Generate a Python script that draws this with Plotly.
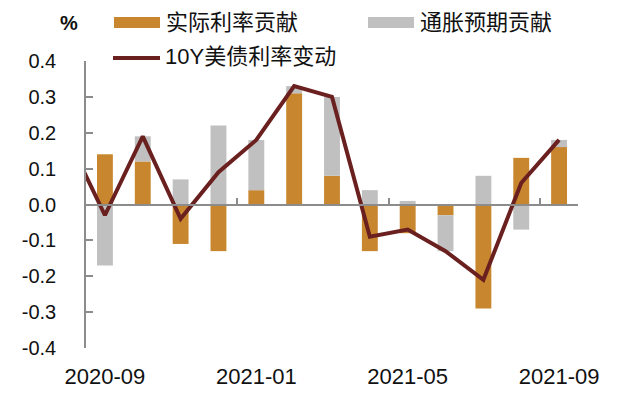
import plotly.graph_objects as go

# ---- data ----
months = ["2020-09", "2020-10", "2020-11", "2020-12", "2021-01", "2021-02", "2021-03",
          "2021-04", "2021-05", "2021-06", "2021-07", "2021-08", "2021-09"]
real_rate = [0.14, 0.12, -0.11, -0.13, 0.04, 0.31, 0.08, -0.13, -0.08, -0.03, -0.29, 0.13, 0.16]
inflation = [-0.17, 0.07, 0.07, 0.22, 0.14, 0.02, 0.22, 0.04, 0.01, -0.10, 0.08, -0.07, 0.02]
# line series includes the previous month (2020-08), partly visible at the left edge
line_months = ["2020-08"] + months
yield_change = [0.19, -0.03, 0.19, -0.04, 0.09, 0.18, 0.33, 0.30, -0.09, -0.07, -0.13, -0.21, 0.06, 0.18]
tick_labels = ["2020-09", "2021-01", "2021-05", "2021-09"]
y_ticks = [-0.4, -0.3, -0.2, -0.1, 0.0, 0.1, 0.2, 0.3, 0.4]
y_tick_labels = ["-0.4", "-0.3", "-0.2", "-0.1", "0.0", "0.1", "0.2", "0.3", "0.4"]
names = ["实际利率贡献", "通胀预期贡献", "10Y美债利率变动"]

ORANGE = "#C8872F"
GRAY = "#C0C0C0"
LINE = "#6B2020"
AXIS = "#8C8C8C"
FONT = "Liberation Sans, Arial, Noto Sans CJK SC, sans-serif"

idx = {m: i for i, m in enumerate(months)}
x_bar = [idx[m] for m in months]
x_line = [idx[months[0]] - 1] + [idx[m] for m in months]
tick_pos = [idx[t] for t in tick_labels]

W, H = 634, 396
L, R, T, B = 86, 56, 61, 48
PW, PH = W - L - R, H - T - B


def fx(px):
    return (px - L) / PW


def fy(py):
    return (H - B - py) / PH


fig = go.Figure()
fig.add_trace(go.Bar(x=x_bar, y=real_rate, name=names[0], marker_color=ORANGE,
                     marker_line_width=0, showlegend=False))
fig.add_trace(go.Bar(x=x_bar, y=inflation, name=names[1], marker_color=GRAY,
                     marker_line_width=0, showlegend=False))
fig.add_trace(go.Scatter(x=x_line, y=yield_change, name=names[2], mode="lines",
                         line=dict(color=LINE, width=4), xaxis="x2", showlegend=False))

shapes = [
    dict(type="rect", xref="paper", yref="paper", x0=fx(114), x1=fx(160), y0=fy(28), y1=fy(17),
         fillcolor=ORANGE, line_width=0),
    dict(type="rect", xref="paper", yref="paper", x0=fx(368), x1=fx(414), y0=fy(28), y1=fy(17),
         fillcolor=GRAY, line_width=0),
    dict(type="line", xref="paper", yref="paper", x0=fx(113), x1=fx(160), y0=fy(58), y1=fy(58),
         line=dict(color=LINE, width=4)),
]
annotations = [
    dict(text=names[0], xref="paper", yref="paper", x=fx(164), y=fy(23), xanchor="left",
         yanchor="middle", showarrow=False, font=dict(size=22, color="#111")),
    dict(text=names[1], xref="paper", yref="paper", x=fx(418), y=fy(23), xanchor="left",
         yanchor="middle", showarrow=False, font=dict(size=22, color="#111")),
    dict(text=names[2], xref="paper", yref="paper", x=fx(163), y=fy(57), xanchor="left",
         yanchor="middle", showarrow=False, font=dict(size=22, color="#111")),
    dict(text="<b>%</b>", xref="paper", yref="paper", x=fx(69), y=fy(23), xanchor="center",
         yanchor="middle", showarrow=False, font=dict(size=20, color="#111")),
]

fig.update_layout(
    width=W, height=H,
    margin=dict(l=L, r=R, t=T, b=B, pad=0, autoexpand=False),
    paper_bgcolor="white", plot_bgcolor="white",
    font=dict(family=FONT, color="#111"),
    barmode="relative", bargap=0.58,
    shapes=shapes, annotations=annotations,
    xaxis=dict(range=[-0.5, 12.5], tickmode="array", tickvals=tick_pos, ticktext=tick_labels,
               ticks="", showline=False, showgrid=False, zeroline=False, automargin=False,
               tickfont=dict(size=22), ticklabelstandoff=13),
    xaxis2=dict(range=[-0.5, 12.5], overlaying="x", anchor="free", position=0.5,
                showline=True, linecolor=AXIS, linewidth=2, ticks="inside", ticklen=6,
                tickcolor=AXIS, tickwidth=1.5, tickmode="array", tickvals=[3.5, 7.5, 11.5],
                showticklabels=False, showgrid=False, zeroline=False, automargin=False),
    yaxis=dict(range=[-0.4, 0.4], tickmode="array", tickvals=y_ticks, ticktext=y_tick_labels,
               ticks="inside", ticklen=7, automargin=False,
               tickcolor=AXIS, tickwidth=1.5, showline=True, linecolor=AXIS, linewidth=1.5,
               showgrid=False, zeroline=False, tickfont=dict(size=20), ticklabelstandoff=24),
)

fig.write_html("out.html", config={"displayModeBar": False},
               post_script="document.body.style.margin='0';")
